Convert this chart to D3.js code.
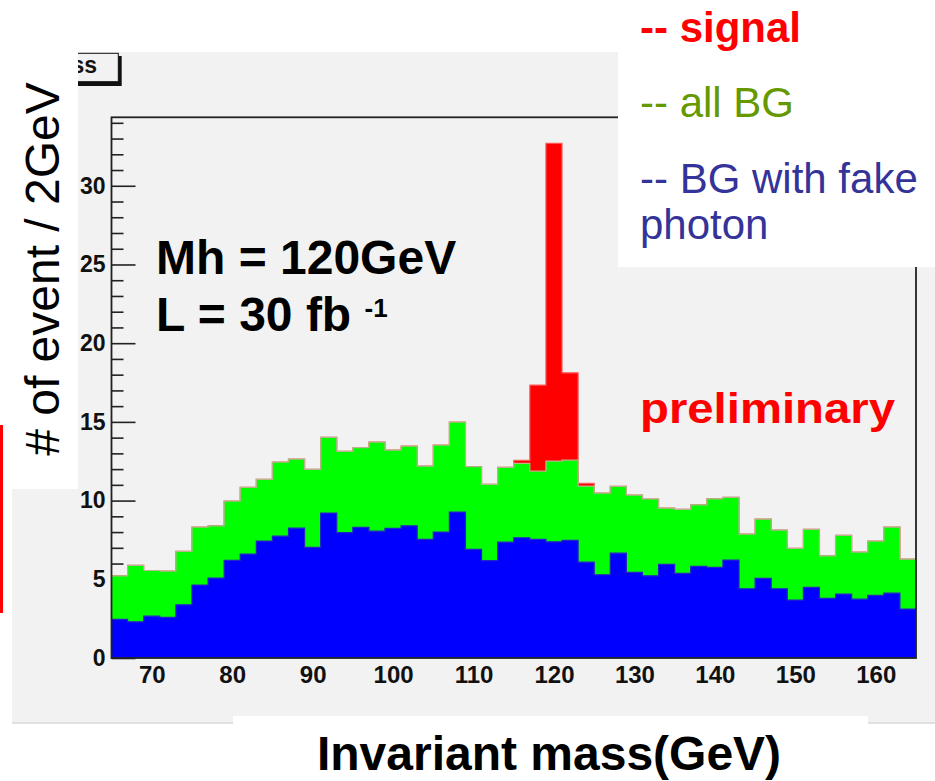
<!DOCTYPE html>
<html>
<head>
<meta charset="utf-8">
<script src="https://cdn.jsdelivr.net/npm/d3@7"></script>
<style>
  body { margin: 0; background: #fff; }
  svg { display: block; }
  text { font-family: "Liberation Sans", Arial, Helvetica, sans-serif; }
</style>
</head>
<body>
<svg id="chart" width="935" height="781"></svg>
<script>
// 2 GeV bins from 65 to 165
const binEdges = d3.range(65, 166, 2);

// all background (green)
const allBg = [5.22, 5.88, 5.56, 5.52, 6.77, 8.32, 8.40, 9.97, 10.84, 11.35,
  12.45, 12.64, 11.98, 14.02, 13.13, 13.36, 13.72, 13.21, 13.46, 12.19,
  13.53, 14.99, 12.15, 11.03, 12.11, 12.36, 11.87, 12.51, 12.57, 10.92,
  10.48, 10.90, 10.35, 10.10, 9.52, 9.44, 9.73, 10.11, 10.20, 7.87,
  8.82, 8.13, 6.96, 8.17, 6.49, 7.79, 6.73, 7.43, 8.32, 6.28];

// background with fake photon (blue)
const fakePhoton = [2.45, 2.30, 2.66, 2.58, 3.38, 4.63, 5.08, 6.20, 6.60, 7.43,
  7.74, 8.25, 7.03, 9.21, 7.96, 8.30, 8.06, 8.23, 8.40, 7.53,
  8.00, 9.27, 6.90, 6.18, 7.36, 7.64, 7.53, 7.38, 7.47, 6.09,
  5.29, 6.66, 5.44, 5.22, 5.95, 5.37, 5.82, 5.76, 6.22, 4.40,
  5.06, 4.40, 3.68, 4.49, 3.79, 4.06, 3.74, 3.98, 4.12, 3.11];

// signal on top of all BG (red)
const signal = [0, 0, 0, 0, 0, 0, 0, 0, 0, 0,
  0, 0, 0, 0, 0, 0, 0, 0, 0, 0,
  0, 0, 0, 0, 0, 0.19, 5.47, 20.19, 5.55, 0.17,
  0, 0, 0, 0, 0, 0, 0, 0, 0, 0,
  0, 0, 0, 0, 0, 0, 0, 0, 0, 0];

const xTickLabels = [70, 80, 90, 100, 110, 120, 130, 140, 150, 160];
const yTickLabels = [0, 5, 10, 15, 20, 25, 30];

const legendLines = [
  { text: "-- signal", color: "#ff0000", bold: true, y: 42 },
  { text: "-- all BG", color: "#669900", bold: false, y: 117 },
  { text: "-- BG with fake", color: "#333399", bold: false, y: 193 },
  { text: "photon", color: "#333399", bold: false, y: 239 }
];

const frame = { left: 111.5, top: 117.3, right: 916, bottom: 658 };

const svg = d3.select("#chart");

const x = d3.scaleLinear().domain([65, 165]).range([frame.left, frame.right]);
const y = d3.scaleLinear().domain([0, 34.35]).range([frame.bottom, frame.top]);

// canvas background
svg.append("rect").attr("x", 12).attr("y", 52).attr("width", 923).attr("height", 671).attr("fill", "#f2f2f2");
svg.append("line").attr("x1", 12).attr("x2", 935).attr("y1", 723).attr("y2", 723)
  .attr("stroke", "#d9d9d9").attr("stroke-width", 1.5);

// y ticks (inside the frame)
const g = svg.append("g");
g.append("g")
  .attr("transform", `translate(${frame.left},0)`)
  .call(d3.axisRight(y).tickValues(d3.range(0, 35, 1)).tickSize(12).tickFormat(""))
  .call(s => s.select(".domain").remove())
  .call(s => s.selectAll(".tick line")
    .attr("x2", d => d % 5 === 0 ? 24 : 12)
    .attr("stroke", "#222").attr("stroke-width", 1.6));

// y tick labels
g.append("g")
  .attr("transform", `translate(${frame.left},0)`)
  .call(d3.axisLeft(y).tickValues(yTickLabels).tickSize(0).tickPadding(6))
  .call(s => s.select(".domain").remove())
  .call(s => s.selectAll("text")
    .attr("font-size", 23).attr("font-weight", "bold").attr("fill", "#111")
    .attr("font-family", "'Liberation Sans', Arial, sans-serif"));

// x tick labels
g.append("g")
  .attr("transform", `translate(0,${frame.bottom})`)
  .call(d3.axisBottom(x).tickValues(xTickLabels).tickSize(0).tickPadding(8))
  .call(s => s.select(".domain").remove())
  .call(s => s.selectAll("text")
    .attr("font-size", 24).attr("font-weight", "bold").attr("fill", "#111")
    .attr("font-family", "'Liberation Sans', Arial, sans-serif"));

// histograms
function steps(values) {
  const pts = values.map((v, i) => ({ e: binEdges[i], v }));
  pts.push({ e: binEdges[values.length], v: values[values.length - 1] });
  return pts;
}
const area = d3.area().curve(d3.curveStepAfter)
  .x(d => x(d.e)).y0(y(0)).y1(d => y(d.v));
const outline = d3.line().curve(d3.curveStepAfter)
  .x(d => x(d.e)).y(d => y(d.v));

const total = allBg.map((v, i) => v + signal[i]);
const hists = [
  { values: total, fill: "#ff0000", stroke: "#ff5a5a" },
  { values: allBg, fill: "#00ff00", stroke: "#b8b48c" },
  { values: fakePhoton, fill: "#0000ff", stroke: "#2424c8" }
];
const hg = svg.append("g");
hists.forEach(h => {
  const pts = steps(h.values);
  hg.append("path").attr("d", area(pts)).attr("fill", h.fill);
  hg.append("path").attr("d", outline(pts)).attr("fill", "none")
    .attr("stroke", h.stroke).attr("stroke-width", 1.2);
});

// frame
svg.append("rect")
  .attr("x", frame.left).attr("y", frame.top)
  .attr("width", frame.right - frame.left).attr("height", frame.bottom - frame.top)
  .attr("fill", "none").attr("stroke", "#222").attr("stroke-width", 1.8);

// title box (partly hidden)
svg.append("rect").attr("x", 60).attr("y", 56).attr("width", 61.7).attr("height", 30).attr("fill", "#111");
svg.append("rect").attr("x", 58).attr("y", 53.3).attr("width", 60.3).attr("height", 28.4)
  .attr("fill", "#f2f2f2").attr("stroke", "#111").attr("stroke-width", 1);
svg.append("text").attr("x", 97).attr("y", 73).attr("text-anchor", "end")
  .attr("font-size", 23).attr("font-weight", "bold").attr("fill", "#111").text("ss");

// white overlay boxes
svg.append("rect").attr("x", 0).attr("y", 0).attr("width", 78).attr("height", 489).attr("fill", "#fff");
svg.append("rect").attr("x", 618).attr("y", 0).attr("width", 317).attr("height", 267).attr("fill", "#fff");
svg.append("rect").attr("x", 233).attr("y", 716).attr("width", 635).attr("height", 65).attr("fill", "#fff");

// red side mark
svg.append("line").attr("x1", 1.5).attr("x2", 1.5).attr("y1", 425).attr("y2", 613)
  .attr("stroke", "#ff0000").attr("stroke-width", 3);

// axis titles
svg.append("text")
  .attr("transform", "translate(59,269) rotate(-90)")
  .attr("text-anchor", "middle").attr("font-size", 48).attr("fill", "#000")
  .text("# of event / 2GeV");
svg.append("text")
  .attr("x", 549).attr("y", 770).attr("text-anchor", "middle")
  .attr("font-size", 48).attr("font-weight", "bold").attr("fill", "#000")
  .text("Invariant mass(GeV)");

// annotations
svg.append("text").attr("x", 156).attr("y", 274)
  .attr("font-size", 48).attr("font-weight", "bold").attr("fill", "#000").text("Mh = 120GeV");
const lum = svg.append("text").attr("x", 156).attr("y", 331)
  .attr("font-size", 48).attr("font-weight", "bold").attr("fill", "#000");
lum.append("tspan").text("L = 30 fb ");
lum.append("tspan").attr("font-size", 26).attr("dy", -14).text("-1");

svg.append("text").attr("x", 640).attr("y", 423)
  .attr("font-size", 42).attr("font-weight", "bold").attr("fill", "#ff0000")
  .attr("textLength", 255).attr("lengthAdjust", "spacingAndGlyphs")
  .text("preliminary");

// legend
svg.append("g").selectAll("text").data(legendLines).join("text")
  .attr("x", 640).attr("y", d => d.y)
  .attr("font-size", 42).attr("font-weight", d => d.bold ? "bold" : "normal")
  .attr("fill", d => d.color)
  .text(d => d.text);
</script>
</body>
</html>
